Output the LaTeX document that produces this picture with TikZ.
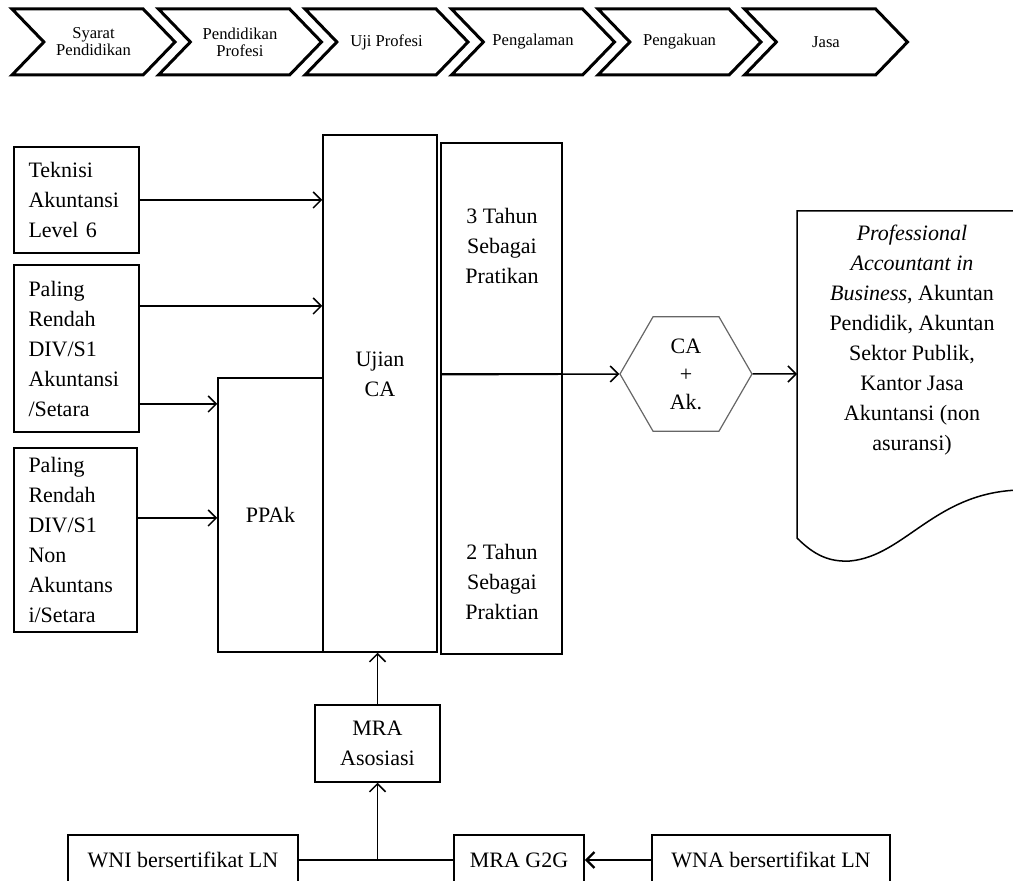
\documentclass[tikz,border=0pt]{standalone}
\usepackage{fontspec}
\setmainfont{Liberation Serif}
\usetikzlibrary{shapes.symbols,shapes.geometric,arrows.meta}
\tikzset{
	box/.style={draw,line width=0.75pt,inner sep=0pt,align=center,font=\fontsize{11}{15}\selectfont},
	stage/.style={draw,line width=1.5pt,signal,signal to=east,signal from=west,signal pointer angle=92,minimum width=81.5pt,minimum height=33pt,inner sep=0pt,align=center,font=\fontsize{8.3}{8.5}\selectfont},
	txt/.style={align=center,font=\fontsize{11}{15}\selectfont},
	flow/.style={->,line width=0.75pt}
}

\begin{document}
\begin{tikzpicture}[x=0.5pt,y=-0.5pt,>={Straight Barb[length=4pt,width=8pt]}]
	\clip[use as bounding box] (0,0) rectangle (1013,881);
	
	%Top Row of Stages
	\foreach \name/\lbl [count=\i] in {s1/{Syarat\\Pendidikan},s2/{Pendidikan\\Profesi},s3/{Uji Profesi},s4/{Pengalaman},s5/{Pengakuan},s6/{Jasa}}
	\node[stage] (\name) at (93.5+146.5*\i-146.5,42) {\lbl};
	
	%Entry Boxes
	\node[box,minimum width=62.5pt,minimum height=53pt,text width=48pt,align=left] (tek) at (76.5,200) {Teknisi\\Akuntansi\\Level 6};
	\node[box,minimum width=62.5pt,minimum height=83.5pt,text width=48pt,align=left] (pal1) at (76.5,348.5) {Paling\\Rendah\\DIV/S1\\Akuntansi\\/Setara};
	\node[box,minimum width=61.5pt,minimum height=92pt,text width=47pt,align=left] (pal2) at (75.5,540) {Paling\\Rendah\\DIV/S1\\Non\\Akuntans\\i/Setara};
	
	%PPAk and Exam
	\node[box,minimum width=52.5pt,minimum height=137pt] (ppak) at (270.5,515) {PPAk};
	\node[box,minimum width=57pt,minimum height=258.5pt] (ujian) at (380,393.5) {};
	\node[txt] (ujiantxt) at (380,374) {Ujian\\CA};
	
	%Practice Years
	\node[box,minimum width=60.5pt,minimum height=115.5pt] (p3) at (501.5,258.5) {};
	\node[box,minimum width=60.5pt,minimum height=140pt] (p2) at (501.5,514) {};
	\node[txt] (p3txt) at (502,246) {3 Tahun\\Sebagai\\Pratikan};
	\node[txt] (p2txt) at (502,582) {2 Tahun\\Sebagai\\Praktian};
	
	%Title and Services
	\node[box,regular polygon,regular polygon sides=6,minimum size=66pt,draw=black!60,line width=0.6pt,font=\fontsize{11}{14}\selectfont] (hex) at (686,374) {CA\\+\\Ak.};
	\draw[line width=0.75pt] (1020,490) .. controls (935,492) and (905,556) .. (850,561) .. controls (830,562) and (815,556) .. (797,538) -- (797,211) -- (1020,211);
	\node[txt] (doc) at (912,340) {\textit{Professional}\\\textit{Accountant in}\\\textit{Business}, Akuntan\\Pendidik, Akuntan\\Sektor Publik,\\Kantor Jasa\\Akuntansi (non\\asuransi)};
	\coordinate (docin) at (797,374);
	
	%MRA Route
	\node[box,minimum width=62.5pt,minimum height=38.5pt] (mra) at (377.5,743.5) {MRA\\Asosiasi};
	\node[box,minimum width=115pt,minimum height=25pt] (wni) at (183,860) {WNI bersertifikat LN};
	\node[box,minimum width=65pt,minimum height=25pt] (g2g) at (519,860) {MRA G2G};
	\node[box,minimum width=119pt,minimum height=25pt] (wna) at (771,860) {WNA bersertifikat LN};
	
	%Connectors
	\draw[flow] (tek.east) -- (tek.east -| ujian.west);
	\draw[flow] (pal1.east |- 0,306) -- (ujian.west |- 0,306);
	\draw[flow] (pal1.east |- 0,404) -- (ppak.west |- 0,404);
	\draw[flow] (pal2.east |- 0,518) -- (ppak.west |- 0,518);
	\draw[flow] (p3.south west) -- (hex.west);
	\draw[flow] (hex.east) -- (docin);
	\draw[flow] (mra.north) -- (mra.north |- ujian.south);
	\draw[line width=0.75pt] (wni.east) -- (g2g.west);
	\draw[flow] (mra.south |- wni.east) -- (mra.south);
	\draw[flow,line width=1.2pt] (wna.west) -- (g2g.east);
	
\end{tikzpicture}
\end{document}
